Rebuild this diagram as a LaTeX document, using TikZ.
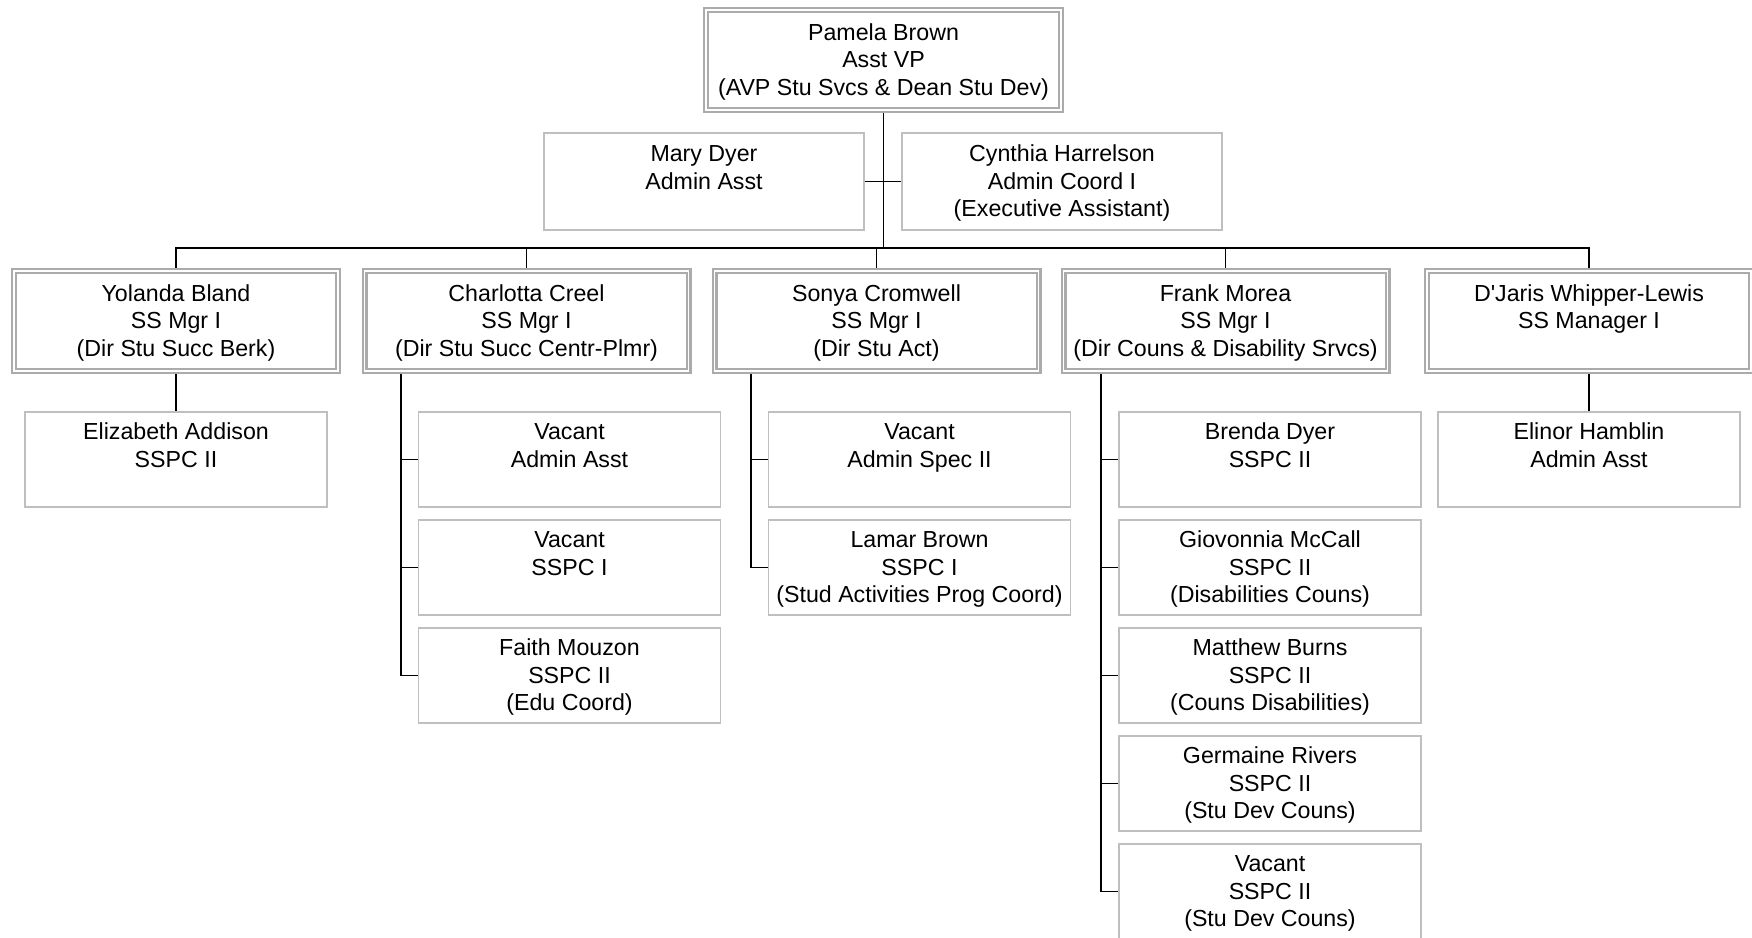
\documentclass[tikz,border=0pt]{standalone}
\usepackage{fontspec}
\setmainfont{Liberation Sans}
\usetikzlibrary{backgrounds}
\definecolor{subgray}{HTML}{BFBFBF}
\definecolor{mgrgray}{HTML}{ABABAB}
\newcommand\toprl{\rule{0pt}{24pt}}
\newcommand\botrl{\rule[-8.25pt]{0pt}{8.25pt}}
\begin{document}
\begin{tikzpicture}[x=1pt,y=-1pt,
  every node/.style={font=\fontsize{23.2}{27.5}\selectfont, align=center, inner sep=0pt},
  mgr/.style={draw=mgrgray, double=white, line width=2.2pt, double distance=1.6pt, fill=white,
    minimum width=324pt, minimum height=100pt},
  sub/.style={draw=subgray, line width=1.3pt, fill=white, minimum width=302pt, minimum height=95pt},
  conn/.style={draw=black, line width=1.6pt}]
\useasboundingbox (0,0) rectangle (1752,937);

% top
\node[mgr, minimum width=355pt, minimum height=100pt] (top) at (883.5,60)
  {\toprl Pamela Brown\\Asst VP\\(AVP Stu Svcs \& Dean Stu Dev)\botrl};
\node[sub, minimum width=320pt, minimum height=97pt] (mary) at (704,181.5)
  {\toprl Mary Dyer\\Admin Asst\\\botrl};
\node[sub, minimum width=320pt, minimum height=97pt] (cyn) at (1062,181.5)
  {\toprl Cynthia Harrelson\\Admin Coord I\\(Executive Assistant)\botrl};

% managers
\node[mgr] (yb) at (176,321) {\toprl Yolanda Bland\\SS Mgr I\\(Dir Stu Succ Berk)\botrl};
\node[mgr] (cc) at (526.5,321) {\toprl Charlotta Creel\\SS Mgr I\\(Dir Stu Succ Centr-Plmr)\botrl};
\node[mgr] (sc) at (876.5,321) {\toprl Sonya Cromwell\\SS Mgr I\\(Dir Stu Act)\botrl};
\node[mgr] (fm) at (1225.5,321) {\toprl Frank Morea\\SS Mgr I\\(Dir Couns \& Disability Srvcs)\botrl};
\node[mgr] (dj) at (1589,321) {\toprl D\textquotesingle Jaris Whipper-Lewis\\SS Manager I\\\botrl};

% subordinates
\node[sub] (ea) at (176,459.5) {\toprl Elizabeth Addison\\SSPC II\\\botrl};
\node[sub] (c1) at (569.5,459.5) {\toprl Vacant\\Admin Asst\\\botrl};
\node[sub] (c2) at (569.5,567.5) {\toprl Vacant\\SSPC I\\\botrl};
\node[sub] (c3) at (569.5,675.5) {\toprl Faith Mouzon\\SSPC II\\(Edu Coord)\botrl};
\node[sub] (s1) at (919.5,459.5) {\toprl Vacant\\Admin Spec II\\\botrl};
\node[sub] (s2) at (919.5,567.5) {\toprl Lamar Brown\\SSPC I\\(Stud Activities Prog Coord)\botrl};
\node[sub] (f1) at (1270,459.5) {\toprl Brenda Dyer\\SSPC II\\\botrl};
\node[sub] (f2) at (1270,567.5) {\toprl Giovonnia McCall\\SSPC II\\(Disabilities Couns)\botrl};
\node[sub] (f3) at (1270,675.5) {\toprl Matthew Burns\\SSPC II\\(Couns Disabilities)\botrl};
\node[sub] (f4) at (1270,783.5) {\toprl Germaine Rivers\\SSPC II\\(Stu Dev Couns)\botrl};
\node[sub] (f5) at (1270,891.5) {\toprl Vacant\\SSPC II\\(Stu Dev Couns)\botrl};
\node[sub] (eh) at (1589,459.5) {\toprl Elinor Hamblin\\Admin Asst\\\botrl};

\begin{scope}[on background layer]
  \fill[white] (0,0) rectangle (1752,937);
  \coordinate (bus) at (883.5,248);
  \coordinate (cv) at (401,330);
  \coordinate (sv) at (751,330);
  \coordinate (fv) at (1101,330);
  \draw[conn] (top.center) -- (bus);
  \draw[conn] (mary.center) -- (cyn.center);
  \draw[conn] (yb.center) |- (bus) -| (dj.center);
  \draw[conn] (cc.center) -- (cc.center |- bus);
  \draw[conn] (sc.center) -- (sc.center |- bus);
  \draw[conn] (fm.center) -- (fm.center |- bus);
  \draw[conn] (yb.center) -- (ea.center);
  \draw[conn] (dj.center) -- (eh.center);
  \draw[conn] (cv) |- (c3.center);
  \draw[conn] (c1.center) -- (c1.center -| cv);
  \draw[conn] (c2.center) -- (c2.center -| cv);
  \draw[conn] (sv) |- (s2.center);
  \draw[conn] (s1.center) -- (s1.center -| sv);
  \draw[conn] (fv) |- (f5.center);
  \draw[conn] (f1.center) -- (f1.center -| fv);
  \draw[conn] (f2.center) -- (f2.center -| fv);
  \draw[conn] (f3.center) -- (f3.center -| fv);
  \draw[conn] (f4.center) -- (f4.center -| fv);
\end{scope}
\end{tikzpicture}
\end{document}
